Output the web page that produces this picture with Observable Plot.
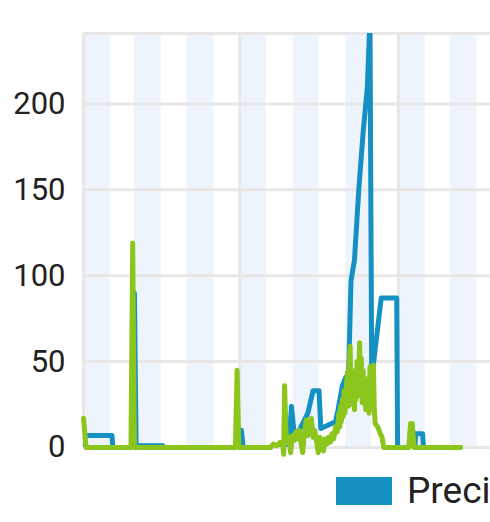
<!DOCTYPE html>
<html><head><meta charset="utf-8">
<script src="https://cdn.jsdelivr.net/npm/d3@7"></script>
<script src="https://cdn.jsdelivr.net/npm/@observablehq/plot@0.6"></script>
<style>
html,body{margin:0;padding:0;background:#fff;overflow:hidden;width:490px;height:522px;}
#chart svg{display:block;max-width:none !important;}
.legend{position:absolute;left:336px;top:469px;display:flex;align-items:center;font-family:Roboto,sans-serif;font-size:37px;line-height:1.17;color:#222;white-space:nowrap;}
.sw{display:inline-block;width:56px;height:28px;margin-right:15px;}
</style></head><body>
<div id="chart"></div>
<div class="legend" id="legend"></div>
<script>
// ---- data ----
const startDate = "2019-01-01";
const endDate = "2020-07-01";
const yTicks = [0, 50, 100, 150, 200];
const yMax = 241;
const seriesNames = ["Precipitation"];

const precipDays = [0,2,33,34,57,59,61,92,93,181,183,185,238,241,244,249,260,266,273,275,292,295,300,304,307,310,314,319,324,329,332,334,345,363,364,384,385,393,394,437];
const precipValues = [0,7,7,0,0,90,1,1,0,0,10,0,0,24,9,9,20,33,33,11,15,22,36,41,38,97,109,150,183,210,250,40,87,87,0,0,8,8,0,0];

const greenDays = [0,3,55,57,59,176,178,180,217,220,224,228,231,232,233,235,238,240,242,244,246,248,250,252,254,256,258,260,262,264,266,268,270,272,274,276,278,280,282,284,286,288,290,292,294,
  296,297,298,299,300,301,302,303,304,305,306,307,308,309,310,311,312,313,314,315,316,317,318,319,320,321,322,323,324,325,326,327,328,329,330,331,332,333,334,335,336,337,338,341,344,346,348,377,379,381,383,437];
const greenValues = [17,0,0,119,0,0,45,0,0,2,1,3,1,-4,36,4,6,-3,7,4,9,5,10,3,-3,8,16,7,12,17,6,10,4,-3,6,3,-2,5,2,6,3,8,5,12,9,
  20,12,24,15,28,18,33,20,30,38,44,24,50,59,30,42,25,40,22,45,28,50,32,40,61,30,52,26,45,30,38,22,40,25,35,20,47,28,40,30,48,22,14,12,8,6,0,0,14,14,0,0];

const blue = "#1590c3";
const green = "#8cc51c";

// ---- build ----
const t0 = new Date(startDate + "T00:00:00Z");
const t1 = new Date(endDate + "T00:00:00Z");
const toDate = d => d3.utcDay.offset(t0, d);
const precip = precipDays.map((d, i) => ({date: toDate(d), value: precipValues[i]}));
const greenData = greenDays.map((d, i) => ({date: toDate(d), value: greenValues[i]}));
const months = d3.utcMonth.range(t0, t1);
const shaded = months.filter((m, i) => i % 2 === 0);
const halfYears = d3.utcMonth.every(6).range(t0, d3.utcDay.offset(t1, 1));

const chart = Plot.plot({
  width: 555, height: 460,
  marginLeft: 83, marginRight: 0, marginTop: 33, marginBottom: 13,
  style: {fontFamily: "Roboto, sans-serif", fontSize: "31px", color: "#222", background: "#fff", overflow: "visible", maxWidth: "none"},
  x: {type: "utc", domain: [t0, t1], axis: null},
  y: {domain: [0, yMax], axis: null},
  marks: [
    Plot.rect(shaded, {x1: d => d, x2: d => d3.utcMonth.offset(d, 1), fill: "#eef4fb"}),
    Plot.ruleY([...yTicks, yMax], {stroke: "#e7e7e7", strokeWidth: 3}),
    Plot.ruleX(halfYears, {stroke: "#e7e7e7", strokeWidth: 3}),
    Plot.axisY({ticks: yTicks, tickSize: 0, tickPadding: 18, label: null, fontSize: 31, fill: "#222"}),
    Plot.lineY(precip, {x: "date", y: "value", stroke: blue, strokeWidth: 5, clip: true}),
    Plot.lineY(greenData, {x: "date", y: "value", stroke: green, strokeWidth: 5})
  ]
});
document.getElementById("chart").append(chart);

const legend = document.getElementById("legend");
seriesNames.forEach(name => {
  const sw = document.createElement("span");
  sw.className = "sw"; sw.style.background = blue;
  const lab = document.createElement("span");
  lab.textContent = name;
  legend.append(sw, lab);
});
</script></body></html>
